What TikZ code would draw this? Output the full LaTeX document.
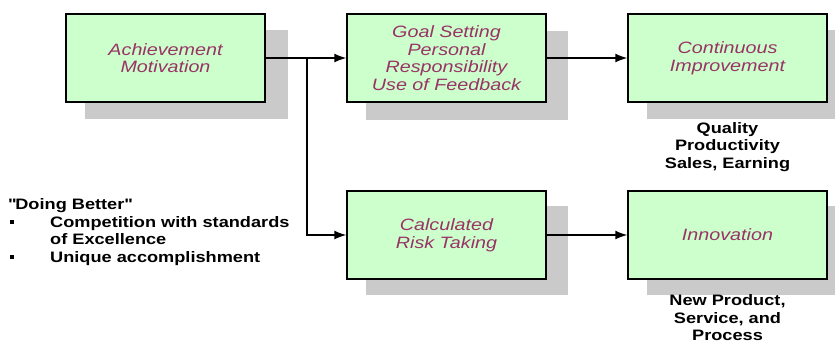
\documentclass[tikz,border=0pt]{standalone}
\usepackage{fontspec}
\setmainfont{Liberation Sans}[FakeStretch=1.2]
\newfontfamily\boxfont{Liberation Sans}[FakeStretch=1.2]
\usetikzlibrary{arrows.meta}
\definecolor{boxgreen}{HTML}{CCFFCC}
\definecolor{shadowgray}{HTML}{CACACA}
\definecolor{boxtext}{HTML}{993366}
\tikzset{
  card/.style={draw=black, line width=1.3bp, fill=boxgreen, minimum width=199bp, minimum height=88bp,
    inner sep=0pt, align=center, text=boxtext, font=\boxfont\itshape\fontsize{16.5}{17.6}\selectfont},
  cardshadow/.style={fill=shadowgray, draw=none, minimum width=202bp, minimum height=89bp, inner sep=0pt},
  link/.style={line width=1.5bp, -{Latex[length=12bp,width=9bp]}},
  note/.style={font=\bfseries\fontsize{15.2}{17.5}\selectfont, inner sep=0pt},
  bulletsq/.style={fill=black, minimum size=3.5bp, inner sep=0pt}
}
\begin{document}
\begin{tikzpicture}[x=1bp,y=-1bp]
\useasboundingbox (0,0) rectangle (835,345);
% shadows
\node[cardshadow] (s1) at (186.5,74.5) {};
\node[cardshadow] (s2) at (467,75) {};
\node[cardshadow] (s3) at (748,74.5) {};
\node[cardshadow] (s4) at (467,250) {};
\node[cardshadow] (s5) at (748,250) {};
% boxes
\node[card] (b1) at (165.5,58) {Achievement\\Motivation};
\node[card] (b2) at (446.5,58) {Goal Setting\\Personal\\Responsibility\\Use of Feedback};
\node[card] (b3) at (727.5,58) {Continuous\\Improvement};
\node[card] (b4) at (446.5,235) {Calculated\\Risk Taking};
\node[card] (b5) at (727.5,235) {Innovation};
% connectors
\coordinate (j) at (307,58);
\draw[link] (b1.east) -- (b2.west);
\draw[link] (j) |- (b4.west);
\draw[link] (b2.east) -- (b3.west);
\draw[link] (b4.east) -- (b5.west);
% notes
\node[note, align=center, anchor=north] (q) at (727.5,122) {Quality\\Productivity\\Sales, Earning};
\node[note, align=center, anchor=north] (np) at (727.5,294.5) {New Product,\\Service, and\\Process};
\node[note, anchor=base west] (d0) at (8,209) {\textquotedbl Doing Better\textquotedbl};
\node[bulletsq] (k1) at (12,222) {};
\node[note, anchor=base west] (d1) at (50,227) {Competition with standards};
\node[note, anchor=base west] (d2) at (50,244) {of Excellence};
\node[bulletsq] (k2) at (12,257) {};
\node[note, anchor=base west] (d3) at (50,262) {Unique accomplishment};
\end{tikzpicture}
\end{document}
